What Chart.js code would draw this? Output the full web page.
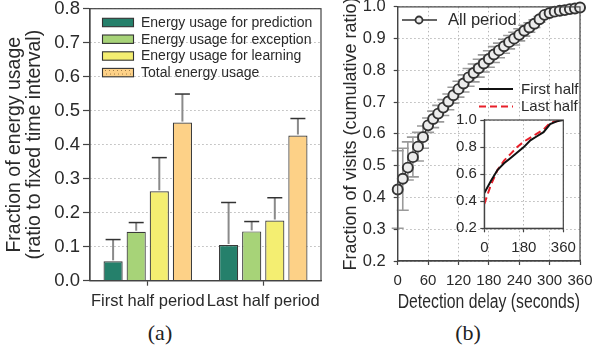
<!DOCTYPE html>
<html><head><meta charset="utf-8">
<script src="https://cdn.jsdelivr.net/npm/chart.js@4.4.1/dist/chart.umd.min.js"></script>
<style>
html,body{margin:0;padding:0;background:#fff;}
#wrap{position:relative;width:595px;height:349px;overflow:hidden;}
canvas{position:absolute;}
.cap{position:absolute;top:320px;font-family:'Liberation Serif','Times New Roman',serif;font-size:22px;color:#222;transform:translateX(-50%);line-height:25px;}
</style></head><body>
<div id="wrap">
<canvas id="c1" width="330" height="320" style="left:0;top:0"></canvas>
<canvas id="c2" width="265" height="320" style="left:330px;top:0"></canvas>
<canvas id="c3" width="140" height="165" style="left:440px;top:100px"></canvas>
<div class="cap" style="left:160px">(a)</div>
<div class="cap" style="left:468px">(b)</div>
</div>
<script>
// ---------- data: panel (a) ----------
const barCategories = ['First half period', 'Last half period'];
const barSeriesNames = ['Energy usage for prediction', 'Energy usage for exception', 'Energy usage for learning', 'Total energy usage'];
const predictionUsage = [0.057, 0.105];
const predictionErrTop = [0.121, 0.230];
const exceptionUsage = [0.144, 0.145];
const exceptionErrTop = [0.171, 0.174];
const learningUsage = [0.263, 0.177];
const learningErrTop = [0.362, 0.244];
const totalUsage = [0.465, 0.427];
const totalErrTop = [0.549, 0.477];
const barYTicks = [0.0, 0.1, 0.2, 0.3, 0.4, 0.5, 0.6, 0.7, 0.8];

// ---------- data: panel (b) ----------
const delaySeconds = [0,10,20,30,40,50,60,70,80,90,100,110,120,130,140,150,160,170,180,190,200,210,220,230,240,250,260,270,280,290,300,310,320,330,340,350,360];
const allPeriodRatio = [0.425,0.459,0.494,0.527,0.560,0.590,0.627,0.647,0.664,0.683,0.702,0.722,0.741,0.759,0.778,0.792,0.807,0.822,0.836,0.850,0.863,0.876,0.889,0.900,0.912,0.925,0.935,0.947,0.961,0.975,0.981,0.985,0.988,0.990,0.993,0.995,0.998];
const allPeriodLow = [0.303,0.360,0.455,0.465,0.515,0.555,0.605,0.620,0.638,0.658,0.676,0.697,0.716,0.732,0.750,0.764,0.779,0.795,0.810,0.825,0.840,0.854,0.868,0.880,0.893,0.908,0.920,0.935,0.952,0.970,0.978,0.983,0.986,0.989,0.992,0.994,0.997];
const allPeriodHigh = [0.547,0.555,0.575,0.590,0.605,0.625,0.650,0.672,0.690,0.708,0.726,0.747,0.766,0.786,0.806,0.820,0.835,0.849,0.862,0.875,0.886,0.898,0.910,0.920,0.931,0.942,0.950,0.959,0.970,0.980,0.984,0.987,0.990,0.991,0.994,0.996,0.999];
const visitYTicks = [0.2,0.3,0.4,0.5,0.6,0.7,0.8,0.9,1.0];
const delayXTicks = [0,60,120,180,240,300,360];
const insetDelay = [0,30,60,90,120,150,180,210,240,270,300,330,360];
const firstHalfRatio = [0.46,0.55,0.63,0.68,0.72,0.76,0.80,0.85,0.88,0.91,0.97,0.99,1.0];
const lastHalfRatio = [0.38,0.52,0.63,0.70,0.75,0.80,0.84,0.87,0.90,0.93,0.98,0.99,1.0];
const insetYTicks = [0.2,0.4,0.6,0.8,1.0];
const insetXTicks = [0,180,360];

const FONT = "'Liberation Sans', Arial, sans-serif";
const TXT = '#2a2a2a';
const AX = '#444';
const GRID = '#b8b8b8';

function setTicks(arr){ return s => { s.ticks = arr.map(v => ({value: v})); }; }
const boxPlugin = {
  id: 'box',
  afterDatasetsDraw(chart){
    const a = chart.chartArea, ctx = chart.ctx;
    ctx.save(); ctx.strokeStyle = AX; ctx.lineWidth = 1.2;
    ctx.strokeRect(a.left, a.top, a.right - a.left, a.bottom - a.top);
    ctx.restore();
  }
};

// ---------- chart (a) ----------
const barColors = ['#25806B', '#A7D378', '#F4EE71', '#FDD187'];
const barErr = [predictionErrTop, exceptionErrTop, learningErrTop, totalErrTop];
const barVals = [predictionUsage, exceptionUsage, learningUsage, totalUsage];

const barErrPlugin = {
  id: 'barErr',
  afterDatasetsDraw(chart){
    const ctx = chart.ctx, y = chart.scales.y;
    chart.data.datasets.forEach((ds, di) => {
      chart.getDatasetMeta(di).data.forEach((bar, i) => {
        const top = y.getPixelForValue(barErr[di][i]);
        const base = y.getPixelForValue(ds.data[i]);
        ctx.save();
        ctx.strokeStyle = '#8a8a8a'; ctx.lineWidth = 2;
        ctx.beginPath(); ctx.moveTo(bar.x, base - 1); ctx.lineTo(bar.x, top); ctx.stroke();
        ctx.strokeStyle = '#333'; ctx.lineWidth = 1.5;
        ctx.beginPath(); ctx.moveTo(bar.x - 7.5, top); ctx.lineTo(bar.x + 7.5, top); ctx.stroke();
        ctx.restore();
      });
    });
  }
};
const barLegendPlugin = {
  id: 'barLegend',
  afterDraw(chart){
    const ctx = chart.ctx;
    const rows = [22.5, 39.2, 56, 72.6];
    ctx.save();
    chart.data.datasets.forEach((ds, i) => {
      const yc = rows[i];
      ctx.fillStyle = ds.backgroundColor;
      ctx.fillRect(102.5, yc - 4.2, 31, 8.4);
      if (i === 3) {
        ctx.fillStyle = '#8a6a3a';
        for (let dx = 105; dx < 133; dx += 4) for (let dy = yc - 2.5; dy < yc + 4; dy += 3.5) ctx.fillRect(dx + ((dy|0)%2), dy, 0.9, 0.9);
      }
      ctx.strokeStyle = '#333'; ctx.lineWidth = 1.1;
      ctx.strokeRect(102.5, yc - 4.2, 31, 8.4);
      ctx.fillStyle = TXT; ctx.font = '14px ' + FONT; ctx.textBaseline = 'middle'; ctx.textAlign = 'left';
      ctx.fillText(ds.label, 141, yc + 0.5);
    });
    ctx.restore();
  }
};

new Chart(document.getElementById('c1'), {
  type: 'bar',
  data: {
    labels: barCategories,
    datasets: barSeriesNames.map((name, i) => ({
      label: name, data: barVals[i], backgroundColor: barColors[i],
      borderColor: '#3a3a3a', borderWidth: 1.2, categoryPercentage: 0.8, barPercentage: 0.83
    }))
  },
  options: {
    responsive: false, animation: false, devicePixelRatio: 1,
    layout: {padding: {top: 8.7, right: 9, left: 0, bottom: 0}},
    plugins: {legend: {display: false}, tooltip: {enabled: false}},
    scales: {
      x: {
        grid: {display: true, drawOnChartArea: false, drawTicks: true, tickLength: 5, offset: false, tickColor: AX, tickWidth: 1.2},
        border: {display: true, color: AX, width: 1.2},
        ticks: {font: {size: 16.5, family: FONT}, color: TXT, padding: 5.5, autoSkip: false, maxRotation: 0},
        afterFit: s => { s.height = 39.3; s.paddingLeft = 0; s.paddingRight = 0; }
      },
      y: {
        min: 0, max: 0.8,
        afterBuildTicks: setTicks(barYTicks),
        grid: {color: GRID, lineWidth: 1, drawTicks: true, tickLength: 7, tickColor: AX, tickWidth: 1.2},
        border: {display: true, color: AX, width: 1.2, dash: [1.5, 2.5]},
        ticks: {font: {size: 18.5, family: FONT}, color: TXT, padding: 3, callback: v => Number(v).toFixed(1)},
        title: {display: true, text: ['Fraction of energy usage', '(ratio to fixed time interval)'], font: {size: 19.5, family: FONT, lineHeight: 1.05}, color: TXT, padding: {top: 4, bottom: 0}},
        afterFit: s => { s.width = 90; s.paddingTop = 0; s.paddingBottom = 0; }
      }
    }
  },
  plugins: [barErrPlugin, boxPlugin, barLegendPlugin]
});

// ---------- chart (b) ----------
const errPlugin = {
  id: 'visitErr',
  beforeDatasetsDraw(chart){
    const ctx = chart.ctx, xs = chart.scales.x, ys = chart.scales.y;
    ctx.save(); ctx.strokeStyle = '#9a9a9a'; ctx.lineWidth = 1.6;
    delaySeconds.forEach((t, i) => {
      const x = xs.getPixelForValue(t);
      const y1 = ys.getPixelForValue(allPeriodLow[i]);
      const y2 = ys.getPixelForValue(allPeriodHigh[i]);
      ctx.beginPath();
      ctx.moveTo(x, y1); ctx.lineTo(x, y2);
      ctx.moveTo(x - 6, y1); ctx.lineTo(x + 6, y1);
      ctx.moveTo(x - 6, y2); ctx.lineTo(x + 6, y2);
      ctx.stroke();
    });
    ctx.restore();
  }
};
const visitLegendPlugin = {
  id: 'visitLegend',
  afterDraw(chart){
    const ctx = chart.ctx; const ox = 330;
    ctx.save();
    ctx.strokeStyle = '#333'; ctx.lineWidth = 1.6;
    ctx.beginPath(); ctx.moveTo(402 - ox, 20); ctx.lineTo(437 - ox, 20); ctx.stroke();
    ctx.beginPath(); ctx.arc(419 - ox, 20, 3.5, 0, Math.PI * 2); ctx.fillStyle = '#ececec'; ctx.fill(); ctx.lineWidth = 1.8; ctx.stroke();
    ctx.fillStyle = TXT; ctx.font = '16.5px ' + FONT; ctx.textBaseline = 'middle'; ctx.textAlign = 'left';
    ctx.fillText('All period', 448 - ox, 20.5);
    ctx.strokeStyle = '#111'; ctx.lineWidth = 2;
    ctx.beginPath(); ctx.moveTo(479 - ox, 89); ctx.lineTo(513 - ox, 89); ctx.stroke();
    ctx.strokeStyle = '#e8202a'; ctx.setLineDash([7, 4]);
    ctx.beginPath(); ctx.moveTo(479 - ox, 106.5); ctx.lineTo(513 - ox, 106.5); ctx.stroke();
    ctx.setLineDash([]);
    ctx.font = '15px ' + FONT;
    ctx.fillText('First half', 521 - ox, 89.5);
    ctx.fillText('Last half', 521 - ox, 107);
    ctx.restore();
  }
};

new Chart(document.getElementById('c2'), {
  type: 'line',
  data: {
    datasets: [{
      label: 'All period',
      data: delaySeconds.map((t, i) => ({x: t, y: allPeriodRatio[i]})),
      borderColor: '#333', borderWidth: 1.5, tension: 0,
      pointRadius: 5, pointBorderWidth: 1.9, pointBorderColor: '#333', pointBackgroundColor: '#ececec',
      clip: false
    }]
  },
  options: {
    responsive: false, animation: false, devicePixelRatio: 1,
    layout: {padding: {top: 6.7, right: 15, left: 0, bottom: 0}},
    plugins: {legend: {display: false}, tooltip: {enabled: false}},
    scales: {
      x: {
        type: 'linear', min: 0, max: 360,
        afterBuildTicks: setTicks(delayXTicks),
        grid: {color: GRID, lineWidth: 1, drawTicks: true, tickLength: 4, tickColor: AX, tickWidth: 1.2},
        border: {display: true, color: AX, width: 1.2, dash: [1.5, 2.5]},
        ticks: {font: {size: 15, family: FONT}, color: TXT, padding: 6.5, maxRotation: 0, autoSkip: false},
        title: {display: true, text: 'Detection delay (seconds)', font: {size: 19.5, family: FONT, lineHeight: 1.2}, color: TXT, padding: {top: 0, bottom: 6}},
        afterFit: s => { s.height = 59; s.paddingLeft = 0; s.paddingRight = 0; }
      },
      y: {
        min: 0.2, max: 1.0,
        afterBuildTicks: setTicks(visitYTicks),
        grid: {color: GRID, lineWidth: 1, drawTicks: true, tickLength: 4, tickColor: AX, tickWidth: 1.2},
        border: {display: true, color: AX, width: 1.2, dash: [1.5, 2.5]},
        ticks: {font: {size: 16.5, family: FONT}, color: TXT, padding: 8, callback: v => Number(v).toFixed(1)},
        title: {display: true, text: 'Fraction of visits (cumulative ratio)', font: {size: 18, family: FONT, lineHeight: 1.2}, color: TXT, padding: {top: 10, bottom: 0}},
        afterFit: s => { s.width = 67.7; s.paddingTop = 0; s.paddingBottom = 0; }
      }
    }
  },
  plugins: [errPlugin, boxPlugin, visitLegendPlugin]
});

// ---------- inset ----------
const insetBg = {
  id: 'insetBg',
  beforeDraw(chart){
    const a = chart.chartArea, ctx = chart.ctx;
    ctx.save(); ctx.fillStyle = '#fff'; ctx.fillRect(a.left, a.top, a.right - a.left, a.bottom - a.top); ctx.restore();
  }
};
new Chart(document.getElementById('c3'), {
  type: 'line',
  data: {
    datasets: [
      {label: 'First half', data: insetDelay.map((t, i) => ({x: t, y: firstHalfRatio[i]})), borderColor: '#111', borderWidth: 2, pointRadius: 0, tension: 0},
      {label: 'Last half', data: insetDelay.map((t, i) => ({x: t, y: lastHalfRatio[i]})), borderColor: '#e8202a', borderWidth: 2, borderDash: [7, 4], pointRadius: 0, tension: 0}
    ]
  },
  options: {
    responsive: false, animation: false, devicePixelRatio: 1,
    layout: {padding: {top: 20, right: 16.7, left: 0, bottom: 0}},
    plugins: {legend: {display: false}, tooltip: {enabled: false}},
    scales: {
      x: {
        type: 'linear', min: 0, max: 360,
        afterBuildTicks: setTicks(insetXTicks),
        grid: {color: GRID, lineWidth: 1, drawTicks: true, tickLength: 4, tickColor: AX, tickWidth: 1.2},
        border: {display: true, color: AX, width: 1.2, dash: [1.5, 2.5]},
        ticks: {font: {size: 15, family: FONT}, color: TXT, padding: 7, maxRotation: 0, autoSkip: false},
        afterFit: s => { s.height = 36.7; s.paddingLeft = 0; s.paddingRight = 0; }
      },
      y: {
        min: 0.2, max: 1.0,
        afterBuildTicks: setTicks(insetYTicks),
        grid: {color: GRID, lineWidth: 1, drawTicks: true, tickLength: 4, tickColor: AX, tickWidth: 1.2},
        border: {display: true, color: AX, width: 1.2, dash: [1.5, 2.5]},
        ticks: {font: {size: 15, family: FONT}, color: TXT, padding: 3.5, callback: v => Number(v).toFixed(1)},
        afterFit: s => { s.width = 44.3; s.paddingTop = 0; s.paddingBottom = 0; }
      }
    }
  },
  plugins: [insetBg, boxPlugin]
});
</script>
</body></html>
